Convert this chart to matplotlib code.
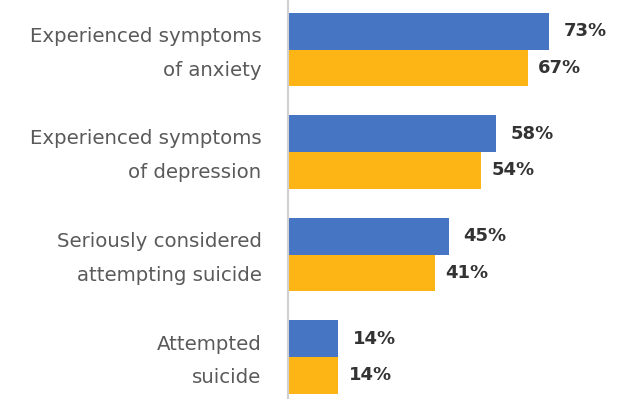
import matplotlib
matplotlib.use("Agg")
import matplotlib.pyplot as plt
import matplotlib.transforms as mtransforms
import numpy as np

categories = ["Experienced symptoms\nof anxiety",
              "Experienced symptoms\nof depression",
              "Seriously considered\nattempting suicide",
              "Attempted\nsuicide"]
series_a = [73, 58, 45, 14]
series_b = [67, 54, 41, 14]
color_a = "#4675C4"
color_b = "#FDB515"

fig = plt.figure(figsize=(6.23, 3.99), dpi=100)
ax = fig.add_axes([288 / 623, 0, 1 - 288 / 623, 1])

y = np.arange(len(categories))
h = 0.36
ax.barh(y - h / 2, series_a, height=h, color=color_a, zorder=2)
ax.barh(y + h / 2, series_b, height=h, color=color_b, zorder=2)

for yi, va, vb in zip(y, series_a, series_b):
    ax.annotate(f"{va}%", (va, yi - h / 2), xytext=(10.5, 0), textcoords="offset points",
                ha="left", va="center", fontsize=13, fontweight="bold", color="#333333")
    ax.annotate(f"{vb}%", (vb, yi + h / 2), xytext=(7.5, 0), textcoords="offset points",
                ha="left", va="center", fontsize=13, fontweight="bold", color="#333333")

ax.set_xlim(0, 335 / 3.58)
ax.set_ylim(3 + 42 / 102.5, -49.5 / 102.5)

ax.set_yticks(y)
ax.set_yticklabels(categories, fontsize=14.2, color="#5a5a5a", linespacing=1.97, ha="right")
ax.tick_params(axis="y", length=0, pad=19)
shift = mtransforms.ScaledTranslation(0, 0.055, fig.dpi_scale_trans)
for lab in ax.get_yticklabels():
    lab.set_transform(lab.get_transform() + shift)
ax.set_xticks([])
for s in ["top", "right", "bottom"]:
    ax.spines[s].set_visible(False)
ax.spines["left"].set_color("#cfcfd4")
ax.spines["left"].set_linewidth(1.5)

fig.savefig("out.png", dpi=100)
